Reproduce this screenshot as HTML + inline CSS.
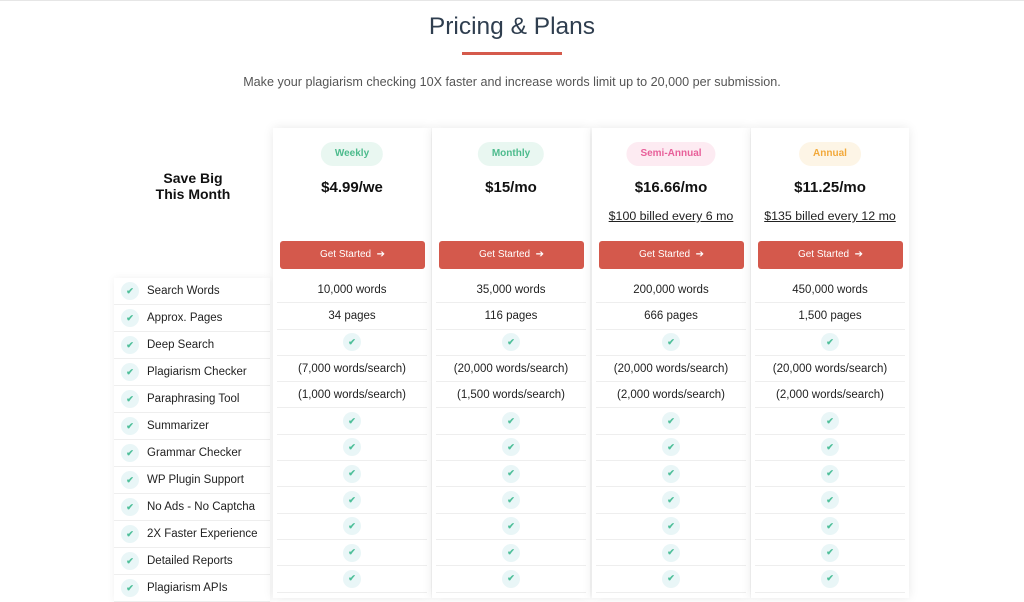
<!DOCTYPE html>
<html><head><meta charset="utf-8"><style>
*{margin:0;padding:0;box-sizing:border-box}
body{width:1024px;height:587px;overflow:hidden;background:#fff;font-family:"Liberation Sans",Arial,sans-serif;position:relative;border-top:1px solid #e6e6e6}
.a{position:absolute}
h1{position:absolute;top:12px;left:0;width:1024px;text-align:center;font-weight:400;font-size:24.5px;color:#2f3e4f}
.bar{left:462px;top:51px;width:100px;height:3px;background:#d55a4c}
.sub{top:74px;left:0;width:1024px;text-align:center;font-size:12.6px;color:#555}
.save{left:114px;top:169px;width:158px;text-align:center;font-weight:700;font-size:14px;line-height:16px;color:#111}
.feat{left:114px;top:277px;width:156px;background:#fff;box-shadow:0 0 8px rgba(0,0,0,.06)}
.feat div{height:27px;border-bottom:1px solid #eee;font-size:11.5px;color:#222;display:flex;align-items:center;padding-left:7px;white-space:nowrap}
.ck{width:18px;height:18px;border-radius:50%;background:#e9f6f7;display:inline-flex;align-items:center;justify-content:center;color:#4fbf9a;font-size:9px;font-weight:700;margin-right:8px;flex:none}
.card{top:127px;width:158px;height:470px;background:#fff;box-shadow:0 0 10px rgba(0,0,0,.09)}
.pill{position:absolute;top:14px;left:50%;transform:translateX(-50%);height:24px;line-height:24px;padding:0 14px;border-radius:12px;font-size:10px;font-weight:700;white-space:nowrap}
.price{position:absolute;top:51px;width:100%;text-align:center;font-weight:700;font-size:15px;color:#111}
.bill{position:absolute;top:81px;width:100%;text-align:center;font-size:12.4px;color:#222;text-decoration:underline;white-space:nowrap}
.btn{position:absolute;top:113px;left:7px;width:145px;height:28px;background:#d4594c;border-radius:3px;color:#fff;font-size:10px;text-align:center;line-height:28px}
.rows{position:absolute;top:149px;left:4px;width:150px}
.rows div{height:26.3px;border-bottom:1px solid #eee;display:flex;align-items:center;justify-content:center;font-size:11.5px;color:#222}
.rows .ck{margin:0}
</style></head><body>
<h1>Pricing &amp; Plans</h1>
<div class="a bar"></div>
<div class="a sub">Make your plagiarism checking 10X faster and increase words limit up to 20,000 per submission.</div>
<div class="a save">Save Big<br>This Month</div>
<div class="a feat">
<div><span class="ck">✔</span>Search Words</div>
<div><span class="ck">✔</span>Approx. Pages</div>
<div><span class="ck">✔</span>Deep Search</div>
<div><span class="ck">✔</span>Plagiarism Checker</div>
<div><span class="ck">✔</span>Paraphrasing Tool</div>
<div><span class="ck">✔</span>Summarizer</div>
<div><span class="ck">✔</span>Grammar Checker</div>
<div><span class="ck">✔</span>WP Plugin Support</div>
<div><span class="ck">✔</span>No Ads - No Captcha</div>
<div><span class="ck">✔</span>2X Faster Experience</div>
<div><span class="ck">✔</span>Detailed Reports</div>
<div><span class="ck">✔</span>Plagiarism APIs</div>
</div>

<div class="a card" style="left:273px"><div class="pill" style="background:#e9f7f1;color:#4dbb8d">Weekly</div><div class="price">$4.99/we</div><div class="btn">Get Started &nbsp;➔</div>
<div class="rows"><div>10,000 words</div><div>34 pages</div><div><span class="ck">✔</span></div><div>(7,000 words/search)</div><div>(1,000 words/search)</div><div><span class="ck">✔</span></div><div><span class="ck">✔</span></div><div><span class="ck">✔</span></div><div><span class="ck">✔</span></div><div><span class="ck">✔</span></div><div><span class="ck">✔</span></div><div><span class="ck">✔</span></div></div></div>

<div class="a card" style="left:432px"><div class="pill" style="background:#e9f7f1;color:#4dbb8d">Monthly</div><div class="price">$15/mo</div><div class="btn">Get Started &nbsp;➔</div>
<div class="rows"><div>35,000 words</div><div>116 pages</div><div><span class="ck">✔</span></div><div>(20,000 words/search)</div><div>(1,500 words/search)</div><div><span class="ck">✔</span></div><div><span class="ck">✔</span></div><div><span class="ck">✔</span></div><div><span class="ck">✔</span></div><div><span class="ck">✔</span></div><div><span class="ck">✔</span></div><div><span class="ck">✔</span></div></div></div>

<div class="a card" style="left:592px"><div class="pill" style="background:#fdebf2;color:#e8609a">Semi-Annual</div><div class="price">$16.66/mo</div><div class="bill">$100 billed every 6 mo</div><div class="btn">Get Started &nbsp;➔</div>
<div class="rows"><div>200,000 words</div><div>666 pages</div><div><span class="ck">✔</span></div><div>(20,000 words/search)</div><div>(2,000 words/search)</div><div><span class="ck">✔</span></div><div><span class="ck">✔</span></div><div><span class="ck">✔</span></div><div><span class="ck">✔</span></div><div><span class="ck">✔</span></div><div><span class="ck">✔</span></div><div><span class="ck">✔</span></div></div></div>

<div class="a card" style="left:751px"><div class="pill" style="background:#fdf5e6;color:#f2a93b">Annual</div><div class="price">$11.25/mo</div><div class="bill">$135 billed every 12 mo</div><div class="btn">Get Started &nbsp;➔</div>
<div class="rows"><div>450,000 words</div><div>1,500 pages</div><div><span class="ck">✔</span></div><div>(20,000 words/search)</div><div>(2,000 words/search)</div><div><span class="ck">✔</span></div><div><span class="ck">✔</span></div><div><span class="ck">✔</span></div><div><span class="ck">✔</span></div><div><span class="ck">✔</span></div><div><span class="ck">✔</span></div><div><span class="ck">✔</span></div></div></div>
</body></html>
